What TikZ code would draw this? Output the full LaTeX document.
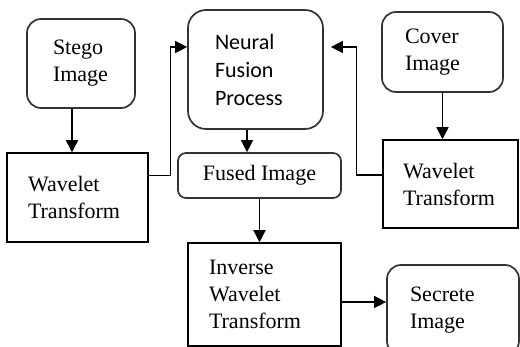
\documentclass[tikz,border=0pt]{standalone}
\usepackage{fontspec}
\setmainfont{Liberation Serif}
\newfontfamily\calibrifont{Carlito}
\usetikzlibrary{arrows.meta}
\begin{document}
\begin{tikzpicture}[x=1pt,y=-1pt]
\tikzset{
  roundbox/.style={draw=black!80, line width=1.7pt, rounded corners=14pt, align=left, font=\fontsize{22}{27}\selectfont},
  plainbox/.style={draw=black, line width=1.5pt, align=left, font=\fontsize{22}{27}\selectfont},
  flow/.style={line width=1.4pt, -{Triangle[length=12pt,width=12pt]}}
}
\useasboundingbox (0,0) rectangle (520,347);
\node[roundbox, minimum height=89pt, text width=56pt, inner xsep=26pt] (stego) at (81,63.5) {Stego\\Image};
\node[plainbox, minimum height=89pt, text width=99pt, inner xsep=21pt] (lwt) at (77.5,197.5) {Wavelet\\Transform};
\node[roundbox, rounded corners=18pt, minimum height=119pt, text width=81pt, inner xsep=27pt,
      font=\calibrifont\fontsize{22}{28}\selectfont] (neural) at (255.5,69.5) {Neural\\Fusion\\Process};
\node[roundbox, rounded corners=8pt, align=center, minimum width=163pt, minimum height=45pt] (fused) at (259.5,175.5) {Fused Image};
\node[roundbox, minimum height=80pt, text width=75pt, inner xsep=23pt] (cover) at (442.5,52) {Cover\\Image};
\node[plainbox, minimum height=88pt, text width=95pt, inner xsep=20pt] (rwt) at (450.5,184) {Wavelet\\Transform};
\node[plainbox, minimum height=103pt, text width=111pt, inner xsep=21pt] (inv) at (264.5,294.5) {Inverse\\Wavelet\\Transform};
\node[roundbox, minimum height=90pt, text width=86pt, inner xsep=23pt] (secret) at (453,310) {Secrete\\Image};

\draw[flow] ([xshift=-9pt]stego.south) -- ([xshift=-9pt]stego.south |- lwt.north);
\draw[flow] ([yshift=22pt]lwt.east) -- ++(22,0) |- ([yshift=22.5pt]neural.west);
\draw[flow, shorten >=7pt] ([yshift=9pt]rwt.west) -- ++(-26,0) |- ([yshift=22.5pt]neural.east);
\draw[flow] ([xshift=-8.5pt]neural.south) -- ([xshift=-8.5pt]neural.south |- fused.north);
\draw[flow] (fused.south) -- (fused.south |- inv.north);
\draw[flow] (cover.south) -- (cover.south |- rwt.north);
\draw[flow] ([yshift=-7.5pt]inv.east) -- ([yshift=-7.5pt]inv.east -| secret.west);
\end{tikzpicture}
\end{document}
